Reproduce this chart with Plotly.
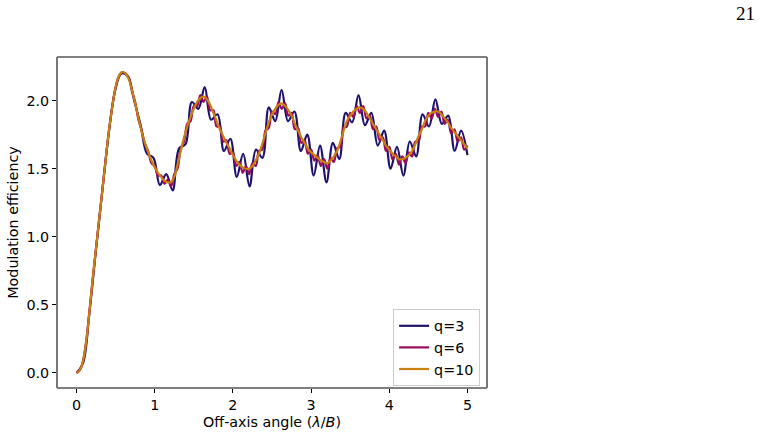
import numpy as np
import plotly.graph_objects as go

# sample positions (x in lambda/B)
x_q3 = list(np.linspace(0, 5, 62))
x_q6 = list(np.linspace(0, 5, 121))
x_q10 = list(np.linspace(0, 5, 121))

q3_values = [0.00, 0.07, 0.44, 0.89, 1.33, 1.75, 2.07, 2.20, 2.18, 2.00,
             1.82, 1.61, 1.58, 1.38, 1.46, 1.34, 1.65, 1.68, 1.99, 1.94,
             2.10, 1.86, 1.90, 1.63, 1.72, 1.44, 1.61, 1.37, 1.64, 1.58,
             1.95, 1.85, 2.08, 1.85, 1.92, 1.63, 1.75, 1.45, 1.67, 1.40,
             1.69, 1.57, 1.91, 1.84, 2.04, 1.82, 1.91, 1.67, 1.78, 1.50,
             1.66, 1.45, 1.70, 1.59, 1.90, 1.81, 2.01, 1.83, 1.89, 1.63,
             1.78, 1.60]

q6_values = [0.00, 0.02, 0.09, 0.24, 0.46, 0.70, 0.92, 1.14, 1.36, 1.58,
             1.79, 1.96, 2.10, 2.18, 2.21, 2.20, 2.17, 2.07, 1.99, 1.86,
             1.78, 1.68, 1.63, 1.54, 1.52, 1.45, 1.45, 1.39, 1.42, 1.37,
             1.46, 1.50, 1.65, 1.70, 1.83, 1.85, 1.96, 1.96, 2.04, 1.99,
             2.03, 1.93, 1.93, 1.81, 1.81, 1.70, 1.71, 1.61, 1.62, 1.52,
             1.55, 1.47, 1.52, 1.46, 1.54, 1.52, 1.63, 1.64, 1.78, 1.80,
             1.92, 1.90, 1.99, 1.94, 1.98, 1.89, 1.91, 1.79, 1.80, 1.69,
             1.71, 1.61, 1.64, 1.56, 1.60, 1.52, 1.57, 1.50, 1.58, 1.55,
             1.65, 1.66, 1.80, 1.81, 1.91, 1.88, 1.96, 1.91, 1.96, 1.87,
             1.89, 1.79, 1.81, 1.71, 1.73, 1.63, 1.66, 1.57, 1.61, 1.53,
             1.59, 1.54, 1.62, 1.59, 1.70, 1.70, 1.81, 1.81, 1.91, 1.87,
             1.94, 1.88, 1.92, 1.83, 1.86, 1.76, 1.79, 1.70, 1.73, 1.64,
             1.67]

q10_values = [0.00, 0.02, 0.09, 0.24, 0.46, 0.70, 0.92, 1.14, 1.36, 1.58,
              1.79, 1.96, 2.10, 2.18, 2.21, 2.20, 2.16, 2.08, 1.98, 1.87,
              1.77, 1.69, 1.62, 1.56, 1.51, 1.47, 1.44, 1.41, 1.40, 1.40,
              1.44, 1.53, 1.63, 1.73, 1.81, 1.88, 1.94, 1.99, 2.02, 2.03,
              2.01, 1.97, 1.91, 1.85, 1.79, 1.74, 1.69, 1.65, 1.60, 1.56,
              1.53, 1.51, 1.50, 1.50, 1.52, 1.56, 1.61, 1.68, 1.76, 1.84,
              1.90, 1.94, 1.97, 1.98, 1.96, 1.93, 1.89, 1.83, 1.78, 1.73,
              1.69, 1.65, 1.62, 1.60, 1.58, 1.56, 1.55, 1.54, 1.56, 1.59,
              1.63, 1.70, 1.78, 1.85, 1.89, 1.92, 1.94, 1.95, 1.94, 1.91,
              1.87, 1.83, 1.79, 1.75, 1.71, 1.67, 1.64, 1.61, 1.59, 1.57,
              1.57, 1.58, 1.60, 1.63, 1.68, 1.74, 1.79, 1.85, 1.89, 1.91,
              1.92, 1.92, 1.90, 1.87, 1.84, 1.80, 1.77, 1.74, 1.71, 1.68,
              1.65]

series = [("q=3", x_q3, q3_values, "#20106e"),
          ("q=6", x_q6, q6_values, "#960c5c"),
          ("q=10", x_q10, q10_values, "#c8800f")]

x_ticks = [0, 1, 2, 3, 4, 5]
y_ticks = [0.0, 0.5, 1.0, 1.5, 2.0]
y_tick_text = ["0.0", "0.5", "1.0", "1.5", "2.0"]

fig = go.Figure()
for name, xs, ys, col in series:
    fig.add_trace(go.Scatter(x=xs, y=ys, mode="lines", name=name,
                             line=dict(color=col, width=2.2, shape="spline", smoothing=1.0)))

FS = 14.3
font = dict(family="DejaVu Sans", size=FS, color="black")
fig.update_layout(
    width=762, height=438,
    margin=dict(l=57, r=275, t=57, b=50),
    paper_bgcolor="white", plot_bgcolor="white",
    font=font,
    showlegend=True,
    legend=dict(x=0.984, y=0.006, xanchor="right", yanchor="bottom",
                bgcolor="rgba(255,255,255,0.8)", bordercolor="#cccccc", borderwidth=1,
                font=dict(family="DejaVu Sans", size=FS), tracegroupgap=0,
                itemwidth=30),
    xaxis=dict(range=[-0.25, 5.25], tickvals=x_ticks, ticks="outside", ticklen=4,
               tickcolor="black", showgrid=False, zeroline=False,
               showline=False, automargin=False,
               title=dict(text="Off-axis angle (<i>λ</i>/<i>B</i>)", standoff=4,
                          font=dict(family="DejaVu Sans", size=FS))),
    yaxis=dict(range=[-0.1105, 2.3205], tickvals=y_ticks, ticktext=y_tick_text,
               ticks="outside", ticklen=4, tickcolor="black", showgrid=False,
               zeroline=False, showline=False, automargin=False,
               title=dict(text="Modulation efficiency", standoff=4,
                          font=dict(family="DejaVu Sans", size=FS))),
)

# axes frame: top/bottom black, left/right grey
fig.add_shape(type="line", xref="paper", yref="paper", x0=0, x1=1, y0=1, y1=1,
              line=dict(color="black", width=1))
fig.add_shape(type="line", xref="paper", yref="paper", x0=0, x1=1, y0=0, y1=0,
              line=dict(color="black", width=1))
fig.add_shape(type="line", xref="paper", yref="paper", x0=0, x1=0, y0=0, y1=1,
              line=dict(color="#777777", width=2))
fig.add_shape(type="line", xref="paper", yref="paper", x0=1, x1=1, y0=0, y1=1,
              line=dict(color="#777777", width=2))

fig.add_annotation(text="21", xref="paper", yref="paper", x=1.600, y=1.13,
                   showarrow=False, xanchor="center", yanchor="middle",
                   font=dict(family="Liberation Serif", size=19, color="black"))

fig.write_html("out.html")
